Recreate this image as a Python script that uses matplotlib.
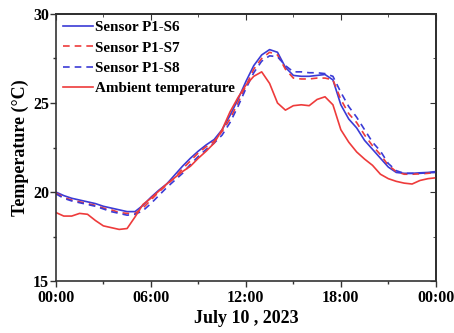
import matplotlib
matplotlib.use("Agg")
import matplotlib.pyplot as plt
from matplotlib.ticker import MultipleLocator, FixedLocator, FixedFormatter

# hours since 00:00, July 10 2023
hours = [0, 0.5, 1, 1.5, 2, 2.5, 3, 3.5, 4, 4.5, 5, 5.5, 6, 6.5, 7, 7.5,
         8, 8.5, 9, 9.5, 10, 10.5, 11, 11.5, 12, 12.5, 13, 13.5, 14, 14.5,
         15, 15.5, 16, 16.5, 17, 17.5, 18, 18.5, 19, 19.5, 20, 20.5, 21,
         21.5, 22, 22.5, 23, 23.5, 24]

sensor_s6 = [20.0, 19.8, 19.65, 19.55, 19.45, 19.35, 19.2, 19.1, 19.0, 18.9,
             18.9, 19.25, 19.7, 20.1, 20.45, 20.95, 21.45, 21.9, 22.3, 22.65,
             22.95, 23.5, 24.3, 25.2, 26.2, 27.1, 27.7, 28.0, 27.85, 27.0,
             26.55, 26.5, 26.5, 26.55, 26.6, 26.3, 24.9, 24.1, 23.6, 22.9,
             22.4, 21.9, 21.4, 21.1, 21.05, 21.05, 21.08, 21.1, 21.15]

sensor_s7 = [19.95, 19.7, 19.55, 19.45, 19.35, 19.25, 19.1, 19.0, 18.85, 18.8,
             18.8, 19.1, 19.55, 20.0, 20.4, 20.8, 21.3, 21.75, 22.2, 22.55,
             22.85, 23.4, 24.1, 25.0, 25.95, 26.9, 27.5, 27.85, 27.7, 26.9,
             26.4, 26.35, 26.35, 26.4, 26.4, 26.3, 25.2, 24.4, 23.9, 23.2,
             22.6, 22.1, 21.5, 21.15, 21.0, 21.0, 21.02, 21.05, 21.1]

sensor_s8 = [19.9, 19.65, 19.5, 19.4, 19.3, 19.2, 19.05, 18.9, 18.8, 18.7,
             18.75, 18.95, 19.35, 19.8, 20.25, 20.65, 21.05, 21.55, 22.0, 22.4,
             22.75, 23.2, 23.9, 24.8, 25.8, 26.7, 27.35, 27.65, 27.6, 27.1,
             26.75, 26.75, 26.7, 26.7, 26.65, 26.5, 25.6, 24.8, 24.2, 23.5,
             22.8, 22.3, 21.6, 21.2, 21.05, 21.05, 21.05, 21.08, 21.1]

ambient = [18.85, 18.65, 18.65, 18.8, 18.75, 18.4, 18.1, 18.0, 17.9, 17.95,
           18.6, 19.3, 19.65, 20.05, 20.45, 20.8, 21.15, 21.45, 21.9, 22.3,
           22.75, 23.5, 24.5, 25.3, 26.0, 26.5, 26.75, 26.1, 25.0, 24.6,
           24.85, 24.9, 24.85, 25.2, 25.35, 24.9, 23.5, 22.8, 22.25, 21.85,
           21.5, 21.0, 20.75, 20.6, 20.5, 20.45, 20.65, 20.75, 20.8]

tick_hours = [0, 6, 12, 18, 24]
tick_labels = ["00:00", "06:00", "12:00", "18:00", "00:00"]

BLUE = "#3b3bd6"
RED = "#ee3b3b"

plt.rcParams["font.family"] = ["Liberation Serif", "DejaVu Serif"]
plt.rcParams["font.weight"] = "bold"

fig = plt.figure(figsize=(4.54, 3.33), dpi=100)
ax = fig.add_axes([0.123, 0.156, 0.837, 0.802])

ax.plot(hours, sensor_s6, color=BLUE, lw=1.2, label="Sensor P1-S6")
ax.plot(hours, sensor_s7, color=RED, lw=1.2, ls=(0, (4, 3)),
        label="Sensor P1-S7")
ax.plot(hours, sensor_s8, color=BLUE, lw=1.2, ls=(0, (4, 3)),
        label="Sensor P1-S8")
ax.plot(hours, ambient, color=RED, lw=1.2, label="Ambient temperature")

ax.set_xlim(0, 24)
ax.set_ylim(15, 30)

ax.xaxis.set_major_locator(FixedLocator(tick_hours))
ax.xaxis.set_major_formatter(FixedFormatter(tick_labels))
ax.xaxis.set_minor_locator(MultipleLocator(3))
ax.yaxis.set_major_locator(MultipleLocator(5))
ax.yaxis.set_minor_locator(MultipleLocator(2.5))

ax.tick_params(which="both", direction="out", width=1.0, colors="#333333",
               labelcolor="black", labelsize=11.5, pad=1)
ax.tick_params(axis="x", which="major", pad=2.5)
ax.tick_params(which="major", length=4)
ax.tick_params(which="minor", length=2)

# inward ticks on the top and right sides
top = ax.secondary_xaxis("top")
top.xaxis.set_major_locator(FixedLocator(tick_hours))
top.xaxis.set_minor_locator(MultipleLocator(3))
top.tick_params(which="both", direction="in", labeltop=False,
                colors="#333333")
top.tick_params(which="major", length=4)
top.tick_params(which="minor", length=2)
right = ax.secondary_yaxis("right")
right.yaxis.set_major_locator(MultipleLocator(5))
right.yaxis.set_minor_locator(MultipleLocator(2.5))
right.tick_params(which="both", direction="in", labelright=False,
                  colors="#333333")
right.tick_params(which="major", length=4)
right.tick_params(which="minor", length=2)

for sp in list(ax.spines.values()):
    sp.set_linewidth(1.2)
    sp.set_color("#333333")
top.spines["top"].set_linewidth(1.2)
right.spines["right"].set_linewidth(1.2)

ax.set_xlabel("July 10 , 2023", fontsize=13, fontweight="bold", labelpad=3)
ax.set_ylabel("Temperature (\u00b0C)", fontsize=13, fontweight="bold",
              labelpad=3)

ax.legend(loc="upper left", frameon=False,
          handlelength=2.0, handletextpad=0.15, labelspacing=0.44,
          borderaxespad=0.1, borderpad=0.35,
          prop={"weight": "bold", "size": 10.9})

fig.savefig("out.png", dpi=100)
